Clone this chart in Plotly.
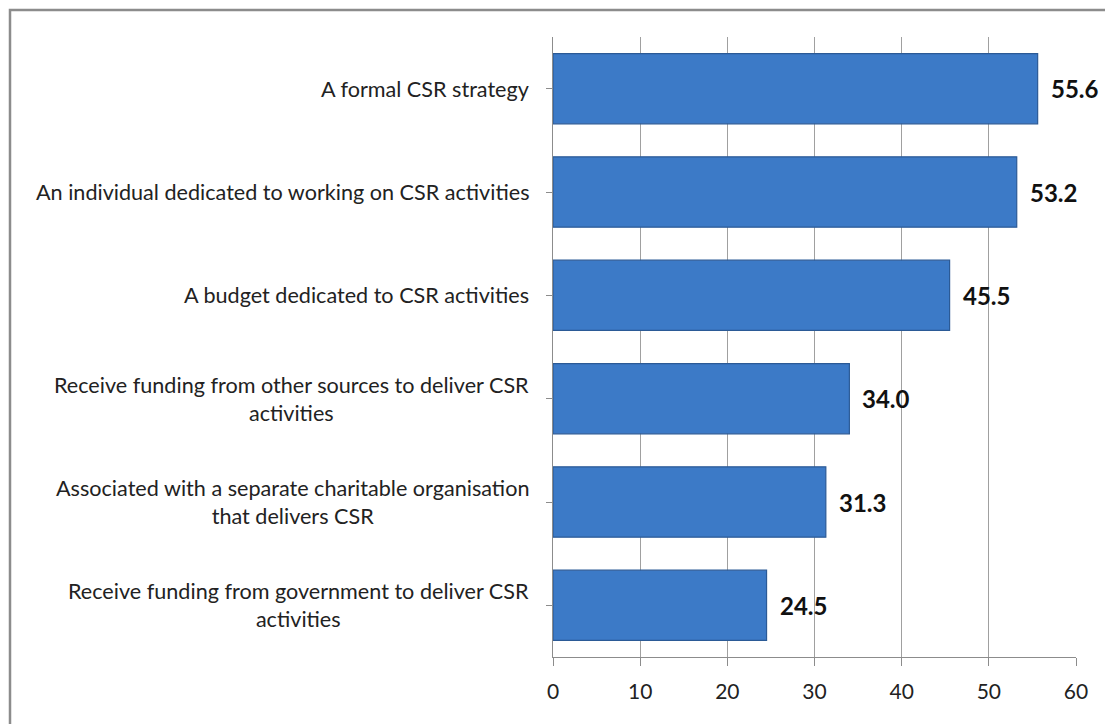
import plotly.graph_objects as go

categories = [
    "A formal CSR strategy",
    "An individual dedicated to working on CSR activities",
    "A budget dedicated to CSR activities",
    "Receive funding from other sources to deliver CSR<br>activities",
    "Associated with a separate charitable organisation<br>that delivers CSR",
    "Receive funding from government to deliver CSR<br>activities",
]
values = [55.6, 53.2, 45.5, 34.0, 31.3, 24.5]
x_ticks = [0, 10, 20, 30, 40, 50, 60]

W, H = 1105, 724
ML, MR, MT, MB = 553, 29, 37, 67
PW, PH = W - ML - MR, H - MT - MB

FONT = "Lato"

fig = go.Figure()
fig.add_trace(go.Bar(
    x=values,
    y=list(range(len(categories))),
    orientation="h",
    width=0.68,
    marker=dict(color="#3C7AC7", line=dict(color="#2B5A96", width=1.2)),
    hoverinfo="skip",
))

annotations = []
for i, (c, v) in enumerate(zip(categories, values)):
    annotations.append(dict(
        x=0, xref="paper", y=i, yref="y",
        text=c, showarrow=False, xanchor="right", yanchor="middle",
        align="center", xshift=-22,
        font=dict(family=FONT, size=21.6, color="#222222"),
    ))
    annotations.append(dict(
        x=v, xref="x", y=i, yref="y",
        text=f"<b>{v:.1f}</b>", showarrow=False, xanchor="left", yanchor="middle",
        xshift=11,
        font=dict(family=FONT, size=24, color="#111111"),
    ))

# outer chart border
x0 = (10 - ML) / PW
x1 = (W + 10 - ML) / PW
y1 = 1 + (MT - 10) / PH
y0 = 1 - (H + 10 - MT) / PH

fig.update_layout(
    width=W, height=H,
    margin=dict(l=ML, r=MR, t=MT, b=MB, pad=0),
    paper_bgcolor="white", plot_bgcolor="white",
    showlegend=False,
    annotations=annotations,
    shapes=[dict(type="rect", xref="paper", yref="paper", x0=x0, x1=x1, y0=y0, y1=y1,
                 line=dict(color="#8C8C8C", width=2.5), fillcolor="rgba(0,0,0,0)", layer="below")],
    xaxis=dict(
        range=[0, 60], tickvals=x_ticks, ticktext=[str(t) for t in x_ticks],
        showgrid=True, gridcolor="#A0A0A0", gridwidth=1,
        showline=True, linecolor="#8C8C8C", linewidth=1.2,
        ticks="outside", ticklen=8, tickcolor="#8C8C8C",
        ticklabelstandoff=8,
        tickfont=dict(family=FONT, size=21, color="#222222"),
        zeroline=False, fixedrange=True,
    ),
    yaxis=dict(
        range=[5.5, -0.5],
        tickvals=list(range(len(categories))),
        showticklabels=False,
        showgrid=False, zeroline=False,
        showline=True, linecolor="#8C8C8C", linewidth=1.2,
        ticks="outside", ticklen=6, tickcolor="#8C8C8C",
        tickson="boundaries", fixedrange=True,
    ),
)

fig.write_html("out.html")
